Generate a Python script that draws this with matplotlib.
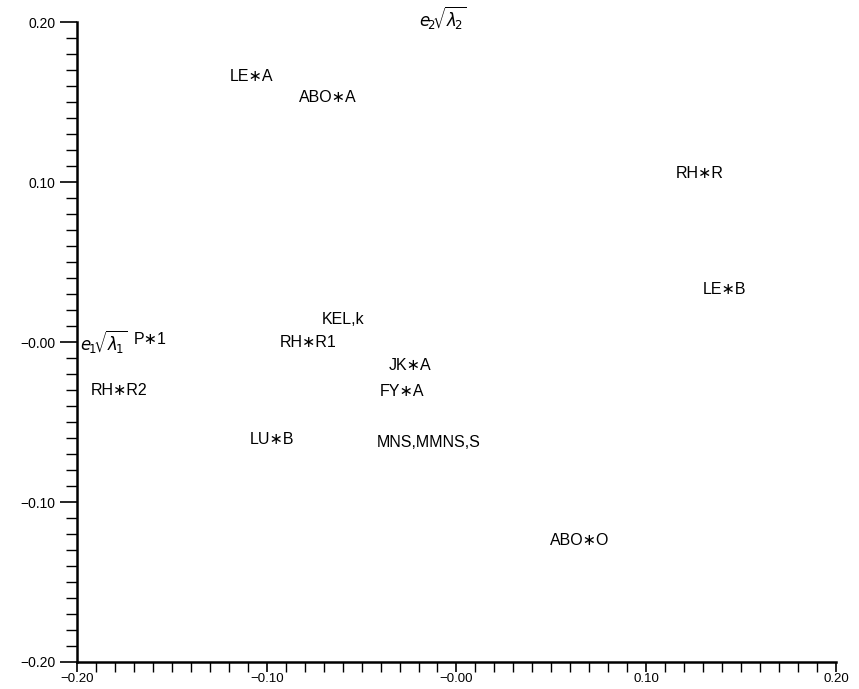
import numpy as np
import matplotlib
matplotlib.use('Agg')
from matplotlib import pyplot as plt
from matplotlib.ticker import MultipleLocator

plt.rcParams['font.family'] = ['Liberation Sans', 'DejaVu Sans']

# label positions (x = e1*sqrt(l1), y = e2*sqrt(l2))
names = ['LE\u2217A', 'ABO\u2217A', 'RH\u2217R', 'LE\u2217B', 'KEL,k', 'P\u22171',
         'RH\u2217R1', 'JK\u2217A', 'RH\u2217R2', 'FY\u2217A', 'LU\u2217B',
         'MNS,MMNS,S', 'ABO\u2217O']
xs = [-0.108, -0.068, 0.128, 0.1415, -0.060, -0.1615,
      -0.078, -0.0245, -0.178, -0.0287, -0.097,
      -0.0145, 0.065]
ys = [0.166, 0.153, 0.1056, 0.033, 0.0138, 0.0013,
      0.0, -0.0144, -0.0306, -0.031, -0.061,
      -0.0625, -0.124]

ticks = [-0.20, -0.10, 0.0, 0.10, 0.20]
tick_labels = ['\u22120.20', '\u22120.10', '\u22120.00', '0.10', '0.20']

fig = plt.figure(figsize=(8.59, 6.89), dpi=100)
ax = fig.add_axes([0.0896, 0.0392, 0.8836, 0.9288])
ax.set_xlim(-0.20, 0.20)
ax.set_ylim(-0.20, 0.20)

for name, x, y in zip(names, xs, ys):
    ax.text(x, y, name, ha='center', va='center', fontsize=11.5)

# axis names placed at the axes
ax.text(-0.1985, 0.0, r'$e_{\!1}\!\sqrt{\lambda_{\!1}}$', ha='left', va='center', fontsize=12)
ax.text(-0.007, 0.2025, r'$e_{\!2}\!\sqrt{\lambda_{\!2}}$', ha='center', va='center', fontsize=12)

ax.spines['top'].set_visible(False)
ax.spines['right'].set_visible(False)
ax.spines['left'].set_linewidth(1.8)
ax.spines['bottom'].set_linewidth(1.8)

ax.set_xticks(ticks)
ax.set_xticklabels(tick_labels)
ax.set_yticks(ticks)
ax.set_yticklabels(tick_labels)
ax.xaxis.set_minor_locator(MultipleLocator(0.01))
ax.yaxis.set_minor_locator(MultipleLocator(0.01))
ax.tick_params(which='major', direction='out', length=12, width=1.2, labelsize=10)
ax.tick_params(which='minor', direction='out', length=8, width=1.0)
ax.tick_params(axis='x', which='both', length=7, pad=1, labelsize=9.5)

plt.savefig('out.png', dpi=100)
